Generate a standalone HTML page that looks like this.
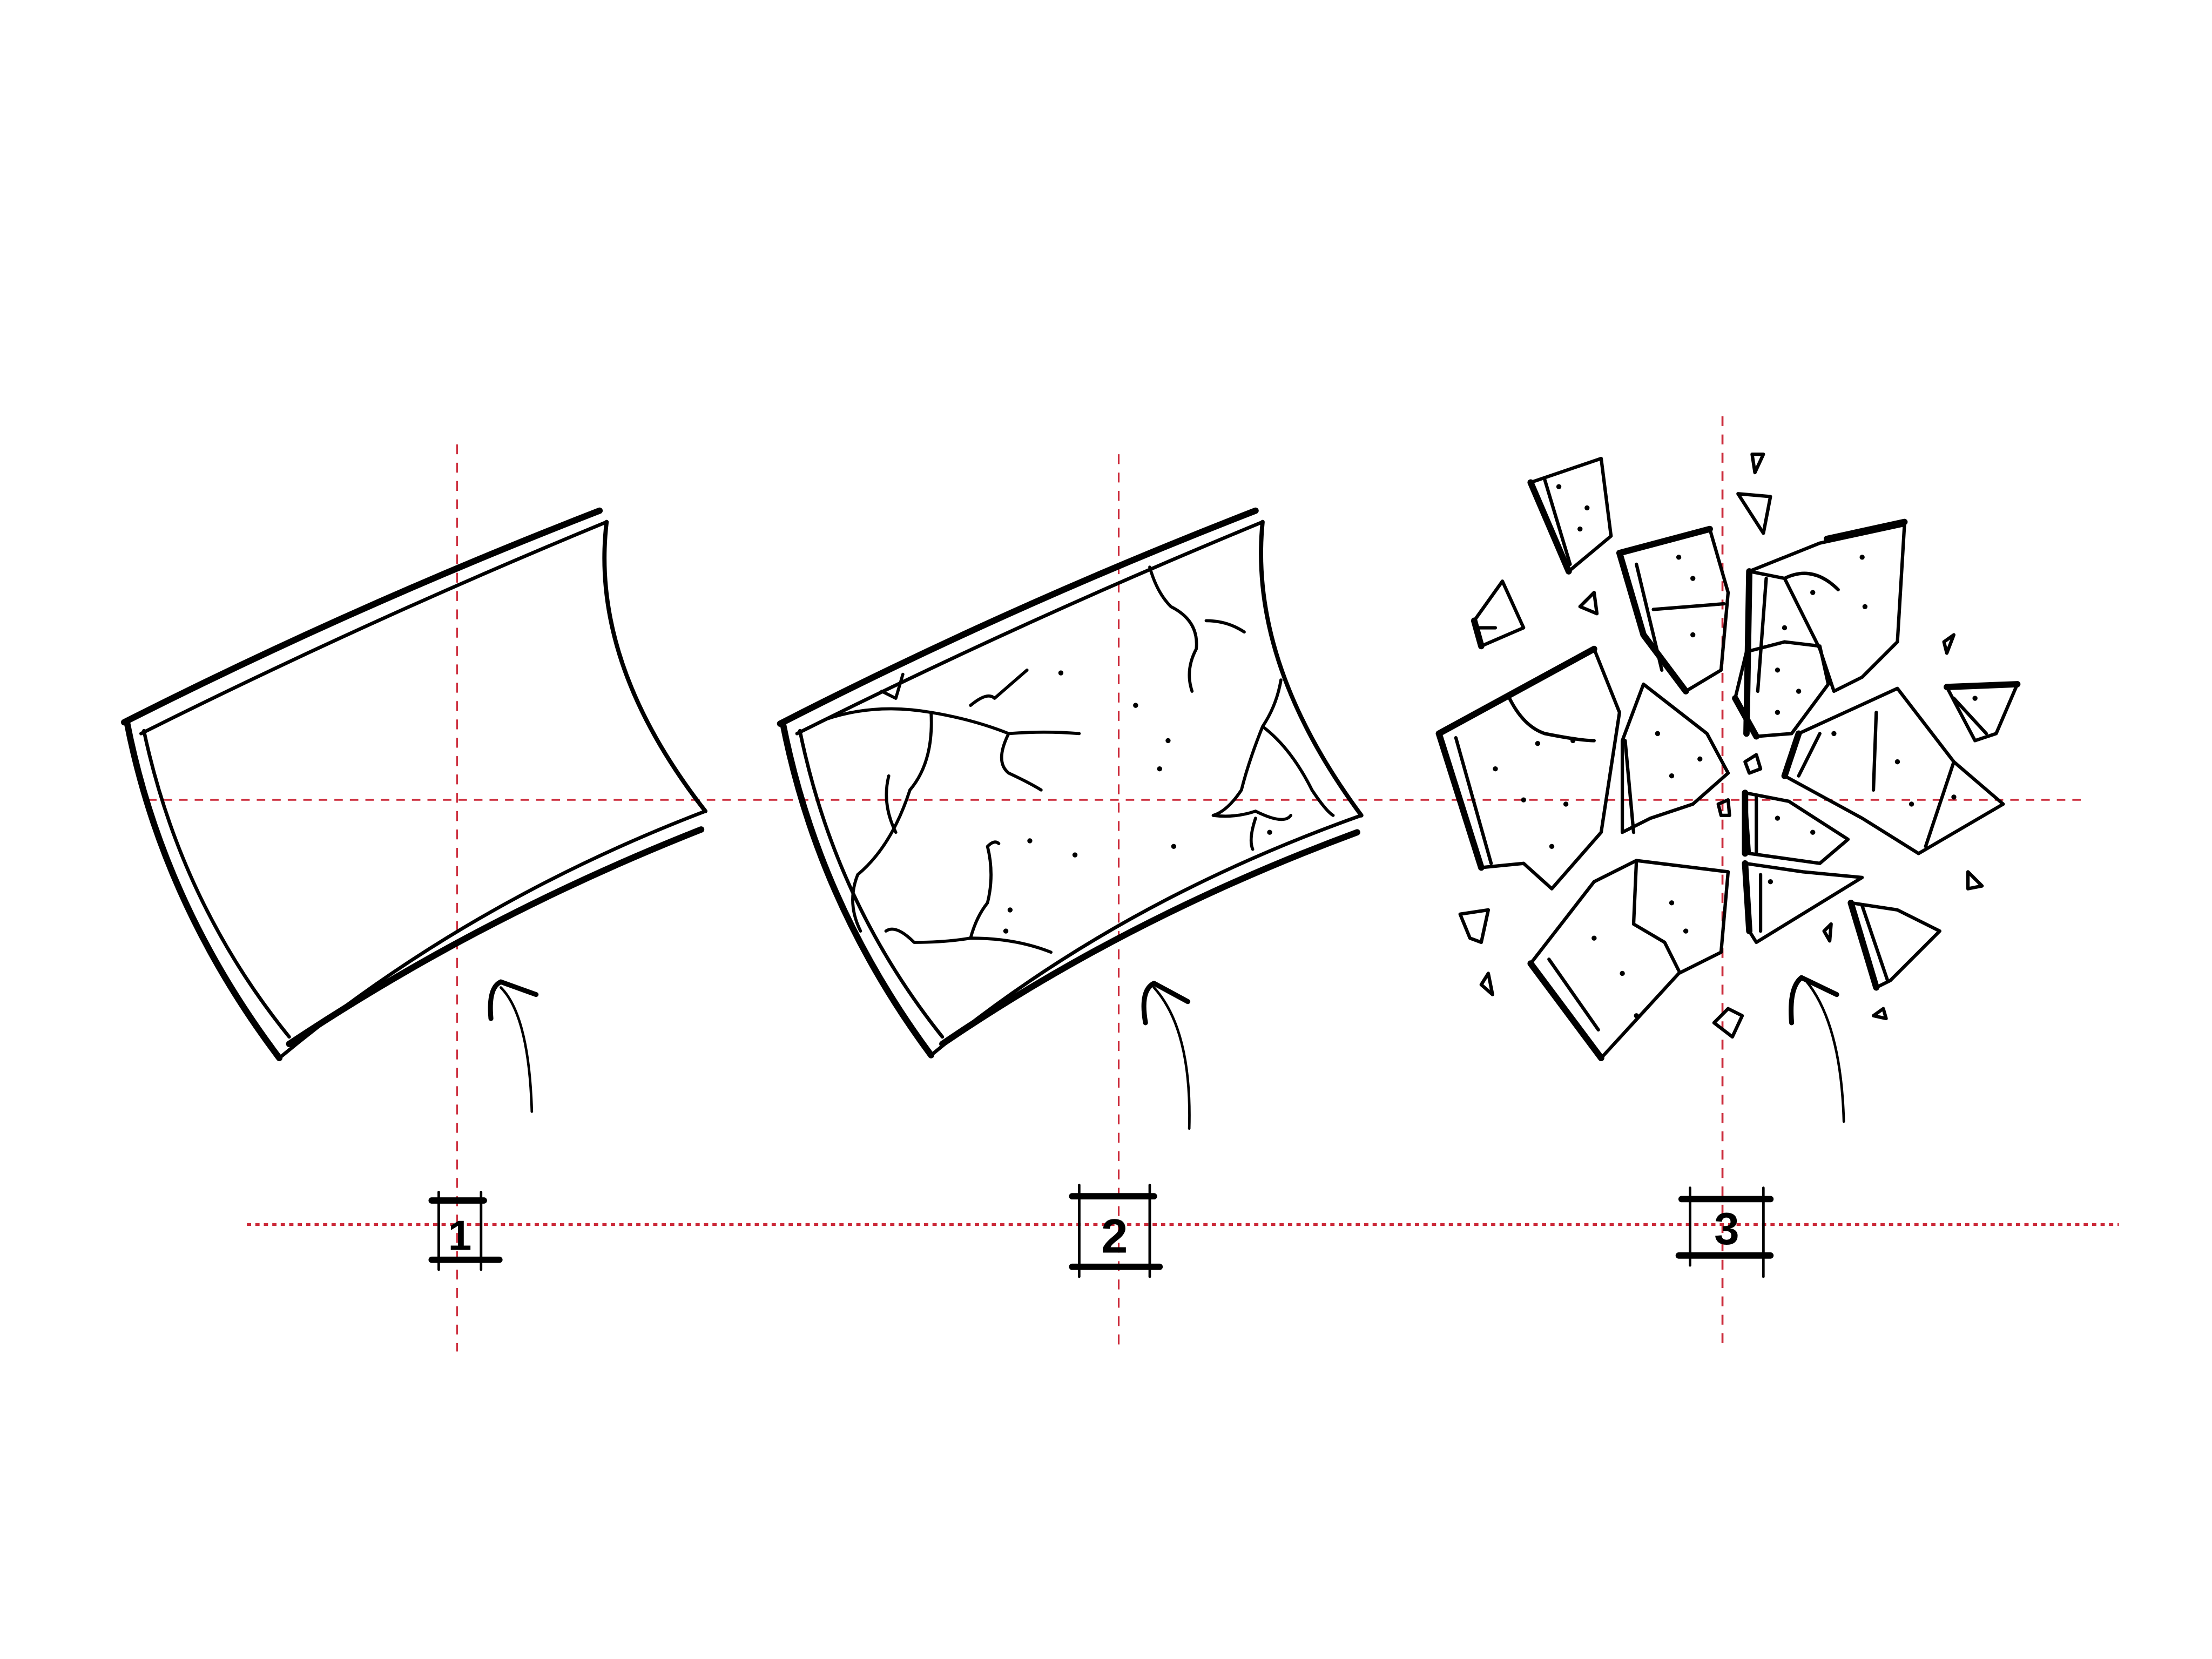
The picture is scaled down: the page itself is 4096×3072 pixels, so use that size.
<!DOCTYPE html>
<html><head><meta charset="utf-8"><style>html,body{margin:0;padding:0;background:#fff}svg{display:block}</style></head>
<body>
<svg width="4096" height="3072" viewBox="0 0 1568 1176" xmlns="http://www.w3.org/2000/svg">
<rect width="1568" height="1176" fill="#fff"/>
<g stroke="#cc2a3a" fill="none">
<line x1="324" y1="315" x2="324" y2="958" stroke-width="1.2" stroke-dasharray="7,6"/>
<line x1="793" y1="322" x2="793" y2="958" stroke-width="1.2" stroke-dasharray="7,6"/>
<line x1="1221" y1="295" x2="1221" y2="952" stroke-width="1.4" stroke-dasharray="7,6"/>
<line x1="105" y1="567" x2="1478" y2="567" stroke-width="1.2" stroke-dasharray="6,5"/>
<line x1="175" y1="868" x2="1502" y2="868" stroke-width="2" stroke-dasharray="3,3"/>
</g>
<g stroke="#000" fill="none" stroke-linecap="round" stroke-linejoin="round">
<!-- panel 1 -->
<path d="M88 512 Q250 430 425 362" stroke-width="4.5"/>
<path d="M100 520 Q260 440 430 370" stroke-width="2.5"/>
<path d="M430 370 Q418 470 500 575" stroke-width="3"/>
<path d="M500 575 Q330 640 198 750" stroke-width="2.5"/>
<path d="M497 588 Q340 650 205 740" stroke-width="4.5"/>
<path d="M90 512 Q115 640 198 750" stroke-width="4.5"/>
<path d="M102 518 Q128 640 205 735" stroke-width="2.5"/>
<!-- panel 2 -->
<path d="M553 513 Q715 430 890 362" stroke-width="4.5"/>
<path d="M565 520 Q725 440 895 370" stroke-width="2.5"/>
<path d="M895 370 Q885 470 965 578" stroke-width="3"/>
<path d="M965 578 Q790 640 660 748" stroke-width="2.5"/>
<path d="M962 590 Q800 650 668 740" stroke-width="4.5"/>
<path d="M555 513 Q580 640 660 748" stroke-width="4.5"/>
<path d="M567 518 Q592 640 668 735" stroke-width="2.5"/>
<g stroke-width="2.2">
<path d="M640 478 L635 495 L625 490"/>
<path d="M585 510 Q620 498 660 505 Q690 510 715 520 Q740 518 765 520"/>
<path d="M660 505 Q662 540 645 560 Q632 600 608 620 Q600 640 610 660"/>
<path d="M630 550 Q625 570 635 590"/>
<path d="M688 500 Q700 490 705 495 Q720 482 728 475"/>
<path d="M715 520 Q705 540 715 548 Q730 555 738 560"/>
<path d="M815 402 Q820 420 830 430 Q850 440 848 460 Q840 475 845 490"/>
<path d="M855 440 Q870 440 882 448"/>
<path d="M628 660 Q635 655 648 668 Q670 668 688 665 Q720 665 745 675"/>
<path d="M688 665 Q692 650 700 640 Q705 620 700 600 Q705 595 708 598"/>
<path d="M908 482 Q905 500 895 515 Q885 540 880 560 Q870 575 860 578 Q875 580 890 575 Q910 585 915 578"/>
<path d="M895 515 Q915 530 930 560 Q940 575 945 578"/>
<path d="M890 580 Q885 595 888 602"/>
</g>
<g fill="#000" stroke="none">
<circle cx="752" cy="477" r="1.8"/><circle cx="805" cy="500" r="1.8"/><circle cx="828" cy="525" r="1.8"/><circle cx="822" cy="545" r="1.8"/><circle cx="730" cy="596" r="1.8"/><circle cx="762" cy="606" r="1.8"/><circle cx="832" cy="600" r="1.8"/><circle cx="716" cy="645" r="1.8"/><circle cx="713" cy="660" r="1.8"/><circle cx="900" cy="590" r="1.8"/>
</g>
<!-- arrows -->
<path d="M377 788 Q375 720 355 700" stroke-width="1.8"/><path d="M348 722 Q346 700 355 696 L380 705" stroke-width="3.5"/>
<path d="M843 800 Q845 730 818 700" stroke-width="1.8"/><path d="M812 725 Q808 702 818 697 L842 710" stroke-width="3.5"/>
<path d="M1307 795 Q1305 725 1280 695" stroke-width="1.8"/><path d="M1270 725 Q1268 700 1277 693 L1302 705" stroke-width="3.5"/>
<!-- label boxes -->
<g stroke-width="1.8">
<rect x="311" y="851" width="30" height="42"/><line x1="311" y1="845" x2="311" y2="900"/><line x1="341" y1="845" x2="341" y2="900"/>
<rect x="765" y="848" width="50" height="50"/><line x1="765" y1="840" x2="765" y2="905"/><line x1="815" y1="840" x2="815" y2="905"/>
<rect x="1198" y="850" width="52" height="40"/><line x1="1198" y1="842" x2="1198" y2="897"/><line x1="1250" y1="842" x2="1250" y2="905"/>
</g>
<g stroke-width="4.5"><line x1="306" y1="851" x2="343" y2="851"/><line x1="306" y1="893" x2="354" y2="893"/>
<line x1="760" y1="848" x2="818" y2="848"/><line x1="760" y1="898" x2="822" y2="898"/>
<line x1="1192" y1="850" x2="1255" y2="850"/><line x1="1190" y1="890" x2="1255" y2="890"/></g>
<!-- fragments -->
<g stroke-width="2.4">
<path d="M1085 342 L1135 325 L1142 380 L1112 405 Z"/><path d="M1095 340 L1113 400"/>
<path d="M1148 392 L1212 375 L1225 420 L1220 475 L1195 490 L1165 450 Z"/><path d="M1160 400 L1178 475"/><path d="M1172 432 L1222 428"/>
<path d="M1240 405 L1290 385 L1350 372 L1345 455 L1320 480 L1300 490 L1290 460 L1265 410 Z"/><path d="M1252 410 L1246 490"/><path d="M1265 410 Q1285 400 1303 418"/>
<path d="M1238 462 L1265 455 L1290 458 L1296 485 L1270 520 L1245 522 L1230 495 Z"/>
<path d="M1020 520 L1130 460 L1148 505 L1135 590 L1100 630 L1080 612 L1050 615 Z"/><path d="M1032 523 L1057 612"/><path d="M1070 495 Q1080 515 1095 520 Q1120 525 1130 525"/>
<path d="M1165 485 L1210 520 L1225 548 L1200 570 L1170 580 L1150 590 L1150 525 Z"/><path d="M1152 525 L1158 590"/>
<path d="M1275 520 L1345 488 L1385 540 L1420 570 L1360 605 L1320 580 L1265 550 Z"/><path d="M1290 520 L1275 550"/><path d="M1330 505 L1328 560"/><path d="M1385 540 L1365 600"/>
<path d="M1380 487 L1430 485 L1415 520 L1400 525 Z"/><path d="M1385 495 L1408 520"/>
<path d="M1237 562 L1268 568 L1310 595 L1290 612 L1240 605 Z"/><path d="M1245 565 L1245 605"/>
<path d="M1237 612 L1278 618 L1320 622 L1245 668 L1240 660 Z"/><path d="M1248 620 L1248 660"/>
<path d="M1085 683 L1130 625 L1160 610 L1225 618 L1220 675 L1190 690 L1135 750 Z"/><path d="M1098 680 L1133 730"/><path d="M1160 610 L1158 655 L1180 668 L1190 688"/>
<path d="M1312 640 L1345 645 L1375 660 L1340 695 L1330 700 Z"/><path d="M1320 642 L1338 695"/>
<path d="M1045 440 L1065 412 L1080 445 L1050 458 Z"/><path d="M1048 445 L1060 445"/>
<path d="M1035 648 L1055 645 L1050 668 L1042 665 Z"/>
<path d="M1232 350 L1255 352 L1250 378 Z"/><path d="M1242 322 L1250 322 L1244 335 Z"/>
<path d="M1120 430 L1130 420 L1132 435 Z"/><path d="M1378 455 L1385 450 L1380 463 Z"/>
<path d="M1237 540 L1245 535 L1248 545 L1240 548 Z"/><path d="M1218 570 L1225 567 L1226 578 L1220 578 Z"/>
<path d="M1395 618 L1405 628 L1395 630 Z"/><path d="M1215 725 L1225 715 L1235 720 L1228 735 Z"/>
<path d="M1293 660 L1298 655 L1297 667 Z"/><path d="M1050 698 L1055 690 L1058 705 Z"/><path d="M1328 720 L1335 715 L1337 722 Z"/>
</g>
<g stroke-width="4.5">
<path d="M1085 342 L1112 405"/><path d="M1148 392 L1165 450 L1195 490"/><path d="M1148 392 L1212 375"/>
<path d="M1240 405 L1238 520"/><path d="M1020 520 L1050 615"/><path d="M1020 520 L1130 460"/>
<path d="M1275 520 L1265 550"/><path d="M1237 562 L1237 605"/><path d="M1237 612 L1240 660"/>
<path d="M1085 683 L1135 750"/><path d="M1312 640 L1330 700"/><path d="M1045 440 L1050 458"/><path d="M1380 487 L1430 485"/>
<path d="M1295 382 L1350 370"/><path d="M1230 495 L1245 522"/>
</g>
</g>
<g fill="#000">
<circle cx="1105" cy="345" r="1.8"/><circle cx="1125" cy="360" r="1.8"/><circle cx="1120" cy="375" r="1.8"/>
<circle cx="1190" cy="395" r="1.8"/><circle cx="1200" cy="410" r="1.8"/><circle cx="1200" cy="450" r="1.8"/>
<circle cx="1265" cy="445" r="1.8"/><circle cx="1285" cy="420" r="1.8"/><circle cx="1320" cy="395" r="1.8"/><circle cx="1322" cy="430" r="1.8"/>
<circle cx="1260" cy="475" r="1.8"/><circle cx="1275" cy="490" r="1.8"/><circle cx="1260" cy="505" r="1.8"/>
<circle cx="1090" cy="527" r="1.8"/><circle cx="1115" cy="525" r="1.8"/><circle cx="1060" cy="545" r="1.8"/><circle cx="1080" cy="567" r="1.8"/><circle cx="1110" cy="570" r="1.8"/><circle cx="1100" cy="600" r="1.8"/>
<circle cx="1175" cy="520" r="1.8"/><circle cx="1185" cy="550" r="1.8"/><circle cx="1205" cy="538" r="1.8"/>
<circle cx="1300" cy="520" r="1.8"/><circle cx="1345" cy="540" r="1.8"/><circle cx="1355" cy="570" r="1.8"/><circle cx="1385" cy="565" r="1.8"/>
<circle cx="1400" cy="495" r="1.8"/><circle cx="1260" cy="580" r="1.8"/><circle cx="1285" cy="590" r="1.8"/><circle cx="1255" cy="625" r="1.8"/>
<circle cx="1130" cy="665" r="1.8"/><circle cx="1150" cy="690" r="1.8"/><circle cx="1185" cy="640" r="1.8"/><circle cx="1195" cy="660" r="1.8"/><circle cx="1160" cy="720" r="1.8"/>
</g>
<g font-family="Liberation Sans, sans-serif" fill="#000" text-anchor="middle" font-weight="bold">
<text x="326" y="886" font-size="30">1</text>
<text x="790" y="888" font-size="34">2</text>
<text x="1224" y="882" font-size="32">3</text>
</g>
</svg>
</body></html>
